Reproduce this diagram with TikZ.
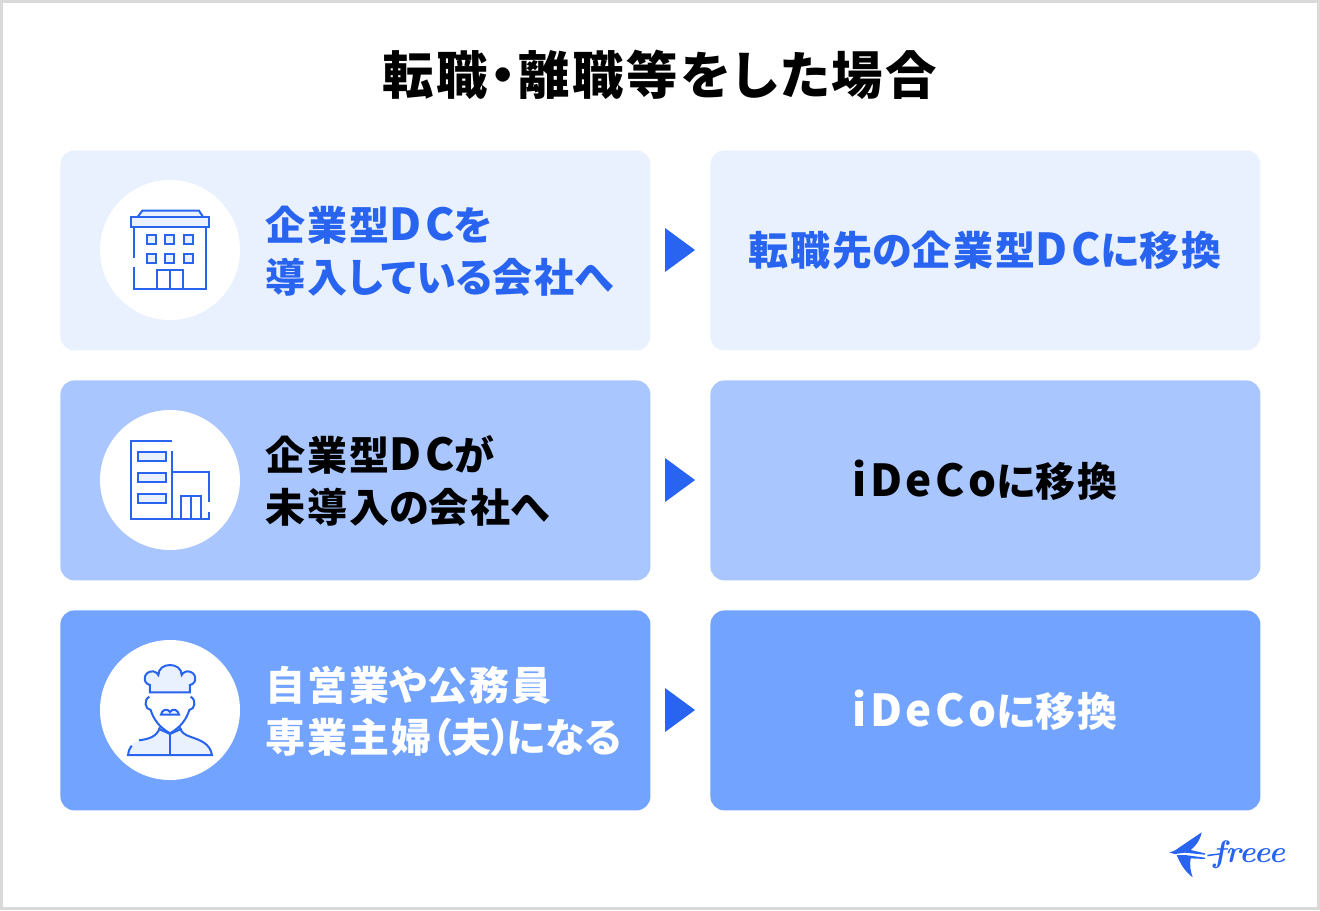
\documentclass[tikz,border=0pt]{standalone}
\usepackage{fontspec}
\setmainfont{Noto Sans CJK JP}[RawFeature=+palt,LetterSpace=5]
\newfontfamily\logofont{Latin Modern Roman}
\newcommand{\ltn}[1]{{\fontsize{22pt}{26pt}\selectfont\addfontfeature{LetterSpace=8}#1}}
\newcommand{\kn}[1]{{\addfontfeature{LetterSpace=0}#1}}
\definecolor{mainblue}{HTML}{2864F0}
\definecolor{paleblue}{HTML}{E9F1FE}
\definecolor{midblue}{HTML}{A9C6FF}
\definecolor{deepblue}{HTML}{72A3FF}
\definecolor{edgegray}{HTML}{D9D9D9}
\tikzset{
  panel/.style={draw=none,rounded corners=7pt,inner sep=0pt,anchor=north west,minimum height=100pt},
  leftpanel/.style={panel,minimum width=295pt},
  rightpanel/.style={panel,minimum width=275pt},
  disc/.style={circle,fill=white,minimum size=70pt,inner sep=0pt},
  lefttext/.style={anchor=west,align=left,inner sep=0pt,font=\fontsize{20pt}{26pt}\selectfont\bfseries},
  righttext/.style={inner sep=0pt,font=\fontsize{20pt}{26pt}\selectfont\bfseries},
  icon/.style={draw=mainblue,line width=1pt,line join=miter},
  iconfill/.style={icon,fill=paleblue},
  pointer/.style={fill=mainblue},
}
\begin{document}
\begin{tikzpicture}[x=0.5pt,y=-0.5pt]
   \useasboundingbox (0,0) rectangle (1320,910);
   \draw[edgegray,line width=1.5pt] (1.5,1.5) rectangle (1318.5,908.5);
   \node[anchor=center,inner sep=0pt,font=\fontsize{25.7pt}{30pt}\selectfont\bfseries] (title) at (660,75) {転職・離職等をした場合};
   % rows
   \node[leftpanel,fill=paleblue]  (left1)  at ( 60,150) {};
   \node[rightpanel,fill=paleblue] (right1) at (710,150) {};
   \node[leftpanel,fill=midblue]   (left2)  at ( 60,380) {};
   \node[rightpanel,fill=midblue]  (right2) at (710,380) {};
   \node[leftpanel,fill=deepblue]  (left3)  at ( 60,610) {};
   \node[rightpanel,fill=deepblue] (right3) at (710,610) {};
   \node[disc] (disc1) at (170,250) {};
   \node[disc] (disc2) at (170,480) {};
   \node[disc] (disc3) at (170,710) {};
   \node[lefttext,text=mainblue] (ltext1) at (265,251) {企業型\ltn{DC}を\\導入\kn{している}会社\kn{へ}};
   \node[lefttext,text=black]    (ltext2) at (265,481) {企業型\ltn{DC}が\\未導入\kn{の}会社\kn{へ}};
   \node[lefttext,text=white]    (ltext3) at (265,711) {自営業\kn{や}公務員\\専業主婦\kn{（}夫\kn{）}\hspace{-2.5pt}\kn{になる}};
   \node[righttext,text=mainblue] (rtext1) at (985,250) {転職先\kn{の}企業型\ltn{DC}\kn{に}移換};
   \node[righttext,text=black]    (rtext2) at (985,480) {\ltn{iDeCo}\kn{に}移換};
   \node[righttext,text=white]    (rtext3) at (985,710) {\ltn{iDeCo}\kn{に}移換};
   \fill[pointer] (665,228) -- (695,250) -- (665,272) -- cycle;
   \fill[pointer] (665,458) -- (695,480) -- (665,502) -- cycle;
   \fill[pointer] (665,688) -- (695,710) -- (665,732) -- cycle;
   % office icon
   \begin{scope}[shift={(90,170)},scale=0.3333]
   \draw[iconfill] (157,122) -- (327,122) -- (340,142) -- (142,142) -- cycle;
   \draw[iconfill] (122,142) rectangle (358,172);
   \draw[icon] (132,172) -- (132,263);
   \draw[icon] (132,292) -- (132,357) -- (348,357) -- (348,172);
   \draw[iconfill] (170,195) rectangle (197,222);
   \draw[iconfill] (225,195) rectangle (252,222);
   \draw[iconfill] (281,195) rectangle (309,222);
   \draw[iconfill] (170,251) rectangle (197,279);
   \draw[iconfill] (225,251) rectangle (252,279);
   \draw[iconfill] (281,251) rectangle (309,279);
   \draw[icon] (201,357) -- (201,301) -- (278,301) -- (278,357);
   \draw[icon] (240,301) -- (240,357);
   \end{scope}
   % small company icon
   \begin{scope}[shift={(90,400)},scale=0.3333]
   \draw[icon] (247,122) -- (122,122) -- (122,357) -- (358,357) -- (358,337);
   \draw[icon] (247,153) -- (247,357);
   \draw[icon] (247,215) -- (357,215) -- (357,307);
   \draw[iconfill] (143,155) rectangle (229,182);
   \draw[iconfill] (143,218) rectangle (229,245);
   \draw[iconfill] (143,281) rectangle (229,308);
   \draw[icon] (272,357) -- (272,287) -- (334,287) -- (334,357);
   \draw[icon] (303,287) -- (303,357);
   \end{scope}
   % cook icon
   \begin{scope}[shift={(90,630)},scale=0.3333]
   \fill[paleblue] (122,345) .. controls (135,332) and (190,330) .. (210,298) -- (240,312) -- (272,298) .. controls (285,325) and (350,320) .. (365,375) -- (115,375) -- cycle;
   \draw[icon] (147,331) .. controls (175,327) and (200,322) .. (210,292);
   \draw[icon] (125,347) .. controls (118,355) and (115,365) .. (114,375) -- (366,375) .. controls (360,340) and (330,330) .. (300,320) .. controls (285,314) and (273,308) .. (268,290);
   \draw[icon] (205,296) -- (240,312) -- (275,296);
   \draw[icon] (240,312) -- (240,375);
   \draw[icon] (178,200) .. controls (160,210) and (165,238) .. (182,240) .. controls (190,265) and (205,290) .. (240,310) .. controls (275,290) and (290,265) .. (298,240) .. controls (315,238) and (320,210) .. (302,200);
   \draw[iconfill] (180,187) -- (180,165) .. controls (155,160) and (160,122) .. (190,124) .. controls (198,126) and (203,130) .. (205,135) .. controls (205,95) and (275,95) .. (275,135) .. controls (277,130) and (282,126) .. (290,124) .. controls (320,122) and (325,160) .. (300,165) -- (300,187) -- cycle;
   \draw[iconfill] (213,254) .. controls (215,240) and (232,232) .. (240,246) .. controls (248,232) and (265,240) .. (267,254) -- cycle;
   \end{scope}
   % logo
   \begin{scope}[shift={(1150,815)},scale=0.3333]
   \fill[mainblue] (58,113) -- (75,106) -- (155,52) .. controls (150,75) and (140,90) .. (122,105) -- (165,115) -- (165,119) -- (105,113) -- (75,117) -- cycle;
   \fill[mainblue] (80,120) -- (105,120) -- (165,128) -- (165,132) -- (122,130) .. controls (118,150) and (122,170) .. (128,187) .. controls (105,170) and (90,145) .. (80,120) -- cycle;
   \fill[mainblue] (172,119) -- (215,114) -- (215,118) -- (172,124) -- cycle;
   \node[anchor=west,inner sep=0pt,text=mainblue,font=\logofont\fontsize{15.5pt}{15pt}\selectfont\bfseries\itshape] (logotext) at (188,118) {freee};
   \end{scope}
\end{tikzpicture}
\end{document}
